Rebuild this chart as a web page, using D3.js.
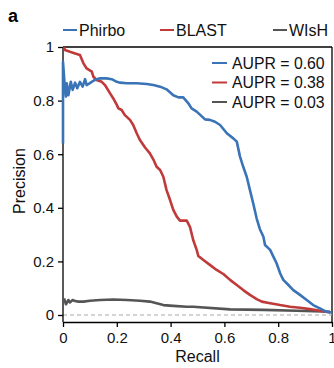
<!DOCTYPE html>
<html><head><meta charset="utf-8">
<script src="https://cdn.jsdelivr.net/npm/d3@7"></script>
<style>body{margin:0;background:#fff}svg{display:block;font-family:"Liberation Sans",Arial,sans-serif}</style>
</head><body><svg id="c" width="334" height="368"></svg>
<script>
const seriesNames = ["Phirbo","BLAST","WIsH"];
const seriesColors = ["#3a74b7","#c03a3a","#555555"];
const auprLabels = ["AUPR = 0.60","AUPR = 0.38","AUPR = 0.03"];
const xTicks = [0,0.2,0.4,0.6,0.8,1];
const yTicks = [0,0.2,0.4,0.6,0.8,1];

const phirboRecall = [0,0,0.006,0.011,0.014,0.02,0.029,0.036,0.045,0.053,0.063,0.073,0.082,0.088,0.1,0.113,0.125,0.138,0.162,0.181,0.2,0.212,0.237,0.274,0.311,0.336,0.361,0.385,0.41,0.429,0.447,0.466,0.478,0.497,0.528,0.546,0.565,0.584,0.609,0.633,0.646,0.658,0.67,0.683,0.695,0.707,0.72,0.732,0.745,0.751,0.77,0.782,0.794,0.807,0.819,0.838,0.856,0.881,0.906,0.93,0.955,0.98,1.0];
const phirboPrecision = [0.64,0.945,0.86,0.815,0.865,0.82,0.87,0.84,0.867,0.846,0.87,0.852,0.88,0.858,0.865,0.874,0.88,0.883,0.883,0.88,0.87,0.867,0.865,0.865,0.862,0.858,0.852,0.842,0.82,0.812,0.812,0.79,0.771,0.759,0.73,0.728,0.721,0.709,0.678,0.659,0.647,0.591,0.553,0.516,0.466,0.417,0.36,0.32,0.292,0.261,0.243,0.218,0.193,0.156,0.131,0.112,0.093,0.075,0.056,0.037,0.025,0.012,0.009];

const blastRecall = [0.004,0.007,0.026,0.045,0.063,0.076,0.088,0.107,0.113,0.125,0.144,0.156,0.175,0.187,0.2,0.206,0.218,0.23,0.249,0.261,0.274,0.286,0.305,0.323,0.336,0.348,0.361,0.373,0.385,0.398,0.41,0.423,0.435,0.46,0.472,0.484,0.497,0.503,0.522,0.546,0.571,0.596,0.621,0.646,0.67,0.695,0.72,0.739,0.77,0.807,0.844,0.881,0.918,0.955,0.993];
const blastPrecision = [1.0,0.989,0.982,0.976,0.97,0.939,0.92,0.908,0.889,0.877,0.87,0.858,0.827,0.808,0.784,0.771,0.765,0.746,0.728,0.709,0.678,0.653,0.625,0.603,0.58,0.553,0.541,0.516,0.466,0.429,0.392,0.367,0.352,0.352,0.329,0.28,0.243,0.22,0.205,0.187,0.168,0.153,0.131,0.112,0.093,0.075,0.059,0.05,0.044,0.037,0.031,0.027,0.022,0.016,0.009];

const wishRecall = [0.004,0.011,0.02,0.026,0.036,0.045,0.057,0.076,0.1,0.138,0.187,0.237,0.286,0.323,0.348,0.373,0.41,0.46,0.484,0.621,0.745,0.869,0.993];
const wishPrecision = [0.062,0.04,0.056,0.047,0.056,0.052,0.05,0.05,0.053,0.056,0.058,0.056,0.053,0.05,0.044,0.037,0.034,0.031,0.031,0.021,0.019,0.016,0.012];

const svg = d3.select("#c");
const x = d3.scaleLinear().domain([0,1]).range([63,332]);
const y = d3.scaleLinear().domain([0,1]).range([315,47]);
const fmt = d3.format("~g");
const axisY = 322;

svg.append("line").attr("x1",x(0)).attr("x2",x(1)).attr("y1",y(1)).attr("y2",y(1)).attr("stroke","#000").attr("stroke-width",1.3);
svg.append("line").attr("x1",x(1)).attr("x2",x(1)).attr("y1",y(1)).attr("y2",axisY).attr("stroke","#000").attr("stroke-width",1.3);

svg.append("line").attr("x1",x(0)).attr("x2",x(1)).attr("y1",y(0)).attr("y2",y(0))
  .attr("stroke","#aaa").attr("stroke-width",1.2).attr("stroke-dasharray","4,3");

const gx = svg.append("g").attr("transform",`translate(0,${axisY})`)
  .call(d3.axisBottom(x).tickValues(xTicks).tickFormat(fmt).tickSize(5).tickSizeOuter(0).tickPadding(5));
const gy = svg.append("g").attr("transform",`translate(${x(0)},0)`)
  .call(d3.axisLeft(y).tickValues(yTicks).tickFormat(fmt).tickSize(5).tickSizeOuter(0).tickPadding(4));
gy.select(".domain").attr("d",`M0,${y(1)}V${axisY}`);
[gx,gy].forEach(g=>{
  g.selectAll("path,line").attr("stroke","#000").attr("stroke-width",1.3);
  g.selectAll("text").attr("font-size",15).attr("fill","#111").attr("font-family","Liberation Sans, Arial, sans-serif");
});

const line = d3.line().x(d=>x(d[0])).y(d=>y(d[1]));
const data = [
  d3.zip(phirboRecall, phirboPrecision),
  d3.zip(blastRecall, blastPrecision),
  d3.zip(wishRecall, wishPrecision)
];
[2,1,0].forEach(i=>{
  svg.append("path").datum(data[i]).attr("d",line).attr("fill","none")
    .attr("stroke",seriesColors[i]).attr("stroke-width",2.6).attr("stroke-linejoin","round");
});

svg.append("text").attr("x",8).attr("y",22).attr("font-size",18).attr("font-weight","bold").text("a");

const topLegX = [63,160,273];
seriesNames.forEach((n,i)=>{
  svg.append("line").attr("x1",topLegX[i]).attr("x2",topLegX[i]+14).attr("y1",30).attr("y2",30)
    .attr("stroke",seriesColors[i]).attr("stroke-width",2);
  svg.append("text").attr("x",topLegX[i]+16).attr("y",35.5).attr("font-size",16).attr("fill","#111").text(n);
});

auprLabels.forEach((t,i)=>{
  const yy = 63 + i*19.5;
  svg.append("line").attr("x1",212).attr("x2",227).attr("y1",yy).attr("y2",yy)
    .attr("stroke",seriesColors[i]).attr("stroke-width",2);
  svg.append("text").attr("x",232).attr("y",yy+5.5).attr("font-size",15.8).attr("fill","#111").text(t);
});

svg.append("text").attr("x",(x(0)+x(1))/2).attr("y",362).attr("text-anchor","middle").attr("font-size",16).attr("fill","#111").text("Recall");
svg.append("text").attr("transform",`translate(25,${(y(0)+y(1))/2}) rotate(-90)`).attr("text-anchor","middle").attr("font-size",16).attr("fill","#111").text("Precision");
</script></body></html>
